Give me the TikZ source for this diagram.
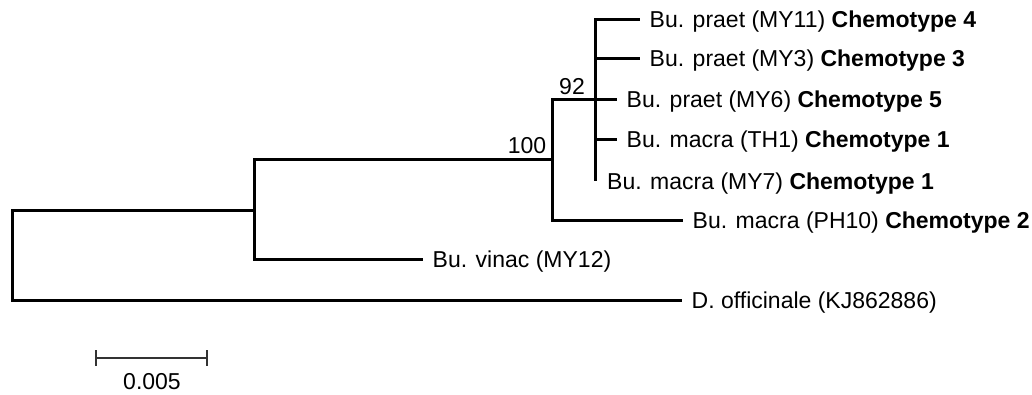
\documentclass[tikz,border=0pt]{standalone}
\usepackage{fontspec}
\setmainfont{Liberation Sans}
\begin{document}
\begin{tikzpicture}[x=1pt,y=-1pt,
  branch/.style={line width=3pt, draw=black},
  leaf/.style={anchor=west, inner xsep=9.5pt, inner ysep=0pt, text height=16.5pt, text depth=0pt, font=\fontsize{23}{27}\selectfont},
  boot/.style={inner sep=0pt, text height=16.5pt, text depth=0pt, font=\fontsize{23}{27}\selectfont},
  scalebar/.style={line width=1.6pt, draw=black!80}]
\useasboundingbox (0,0) rectangle (1032,394);
% internal nodes
\coordinate (r) at (12,255);
\coordinate (a) at (254,210);
\coordinate (b) at (552,159);
\coordinate (c) at (595,99);
% leaves
\node[leaf] (my11) at (640,19) {Bu. praet (MY11) \textbf{Chemotype 4}};
\node[leaf] (my3) at (640,58) {Bu. praet (MY3) \textbf{Chemotype 3}};
\node[leaf] (my6) at (617,99) {Bu. praet (MY6) \textbf{Chemotype 5}};
\node[leaf] (th1) at (617,139) {Bu. macra (TH1) \textbf{Chemotype 1}};
\node[leaf, inner xsep=12pt] (my7) at (595,181) {Bu. macra (MY7) \textbf{Chemotype 1}};
\node[leaf] (ph10) at (683,220) {Bu. macra (PH10) \textbf{Chemotype 2}};
\node[leaf] (vinac) at (423,259) {Bu. vinac (MY12)};
\node[leaf] (dof) at (682,300) {D. officinale (KJ862886)};
% branches
\draw[branch] (r) |- (a);
\draw[branch] (r) |- (dof.west);
\draw[branch] (a) |- (b);
\draw[branch] (a) |- (vinac.west);
\draw[branch] (b) |- (c);
\draw[branch] (b) |- (ph10.west);
\draw[branch] (c) |- (my11.west);
\draw[branch] (c) |- (my3.west);
\draw[branch] (c) -- (my6.west);
\draw[branch] (c |- th1.west) -- (th1.west);
\draw[branch] (c) -- (my7.west);
% bootstrap values
\node[boot] (bs100) at (527,145) {100};
\node[boot] (bs92) at (572,86) {92};
% scale bar
\coordinate (sl) at (96,358);
\coordinate (sr) at (207,358);
\draw[scalebar] (sl) -- (sr);
\draw[scalebar] (sl) ++(0,-8) -- ++(0,16);
\draw[scalebar] (sr) ++(0,-8) -- ++(0,16);
\node[boot] (sblabel) at (152,381) {0.005};
\end{tikzpicture}
\end{document}
